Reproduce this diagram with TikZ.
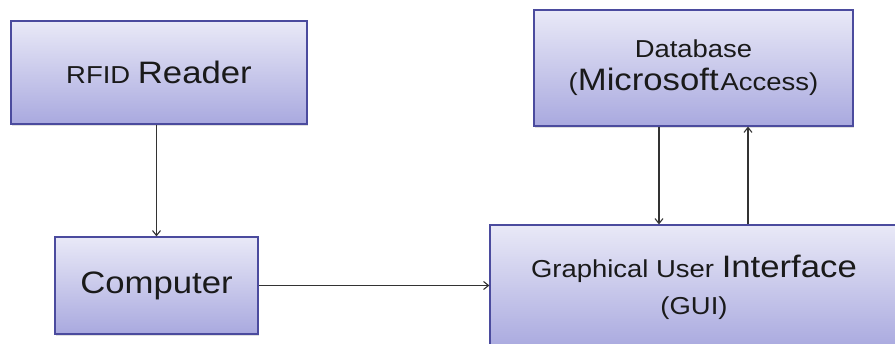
\documentclass[tikz,border=0pt]{standalone}
\usepackage{fontspec}
\usetikzlibrary{arrows.meta,calc,shadows}
\newfontfamily\boxfont[FakeStretch=1.12]{Liberation Sans}
\newcommand{\smalltxt}{\fontsize{24.5}{28}\selectfont}
\newcommand{\bigtxt}[1]{{\fontsize{31}{33}\selectfont #1}}
\definecolor{boxedge}{HTML}{4B4B9E}
\definecolor{boxtop}{HTML}{E9E9F7}
\definecolor{boxbottom}{HTML}{A9A9DF}
\definecolor{txt}{HTML}{1A1A1A}
\definecolor{wire}{HTML}{333333}
\tikzset{
  block/.style={rectangle, draw=boxedge, line width=1.2pt,
    top color=boxtop, bottom color=boxbottom, text=txt,
    align=center, inner sep=0pt,
    drop shadow={opacity=0.25, shadow xshift=1.2pt, shadow yshift=-1.5pt}},
  link/.style={draw=wire, line width=1.1pt, -{Straight Barb[length=5pt,width=8pt]}}
}
\begin{document}
\begin{tikzpicture}[x=1pt, y=-1pt]
  \useasboundingbox (0,0) rectangle (895,343);
  \begin{scope}
    \clip (0,0) rectangle (895,343);
    \node[block, minimum width=296pt, minimum height=103pt,
      font=\boxfont\smalltxt] (rfid) at (159,72.5) {RFID \bigtxt{Reader}};
    \node[block, minimum width=203pt, minimum height=97pt,
      font=\boxfont\smalltxt] (comp) at (156.5,285.5) {\bigtxt{Computer}};
    \node[block, minimum width=319pt, minimum height=116pt,
      font=\boxfont\fontsize{24.5}{33}\selectfont] (db) at (693.5,68)
      {Database\\(\bigtxt{Microsoft}\hspace{2pt}Access)};
    \node[block, minimum width=408pt, minimum height=124pt,
      font=\boxfont\fontsize{24.5}{37}\selectfont] (gui) at (694,287)
      {Graphical User \bigtxt{Interface}\\(GUI)};
  \end{scope}
  % connectors
  \draw[link] (rfid.south -| comp.north) -- (comp.north);
  \draw[link] (comp.east) -- (comp.east -| gui.west);
  \coordinate (dbdown) at ($(db.south)+(-34.5,0)$);
  \coordinate (dbup) at ($(db.south)+(54.5,0)$);
  \draw[link] (dbdown) -- (dbdown |- gui.north);
  \draw[link] (dbup |- gui.north) -- (dbup);
\end{tikzpicture}
\end{document}
